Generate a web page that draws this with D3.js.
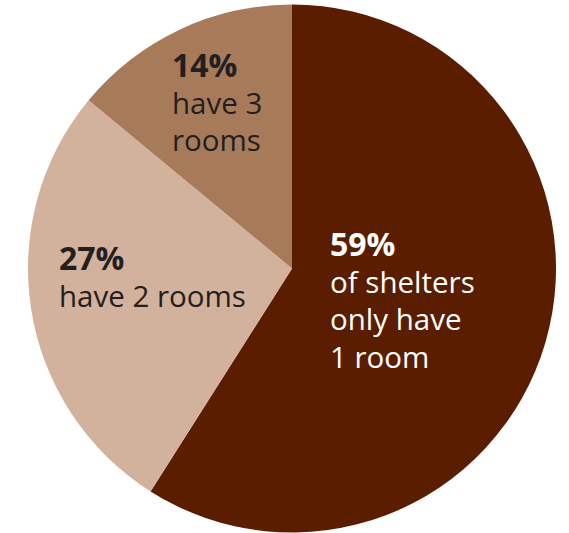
<!DOCTYPE html>
<html>
<head>
<meta charset="utf-8">
<script src="https://cdn.jsdelivr.net/npm/d3@7"></script>
<style>
  body { margin: 0; background: #fff; }
  svg text { font-family: "Open Sans", Lato, sans-serif; }
</style>
</head>
<body>
<script>
var categories = ["1 room", "2 rooms", "3 rooms"];
var values = [59, 27, 14];
var colors = ["#5a1d00", "#d2b29c", "#a77a5a"];
var labelLines = [
    ["of shelters", "only have", "1 room"],
    ["have 2 rooms"],
    ["have 3", "rooms"]
];
var labelPos = [[330, 256], [59, 270], [172, 77]];
var textColors = ["#ffffff", "#231f20", "#231f20"];

var width = 569, height = 533;
var cx = 292, cy = 268.5, radius = 264;

var svg = d3.select("body").append("svg")
    .attr("width", width)
    .attr("height", height);

var pie = d3.pie().sort(null).value(d => d);
var arc = d3.arc().innerRadius(0).outerRadius(radius);

var g = svg.append("g").attr("transform", "translate(" + [cx, cy] + ")");

g.selectAll("path")
    .data(pie(values))
    .enter()
    .append("path")
    .attr("d", arc)
    .attr("fill", (d, i) => colors[i]);

// labels
categories.forEach((c, i) => {
    var t = svg.append("text")
        .attr("x", labelPos[i][0])
        .attr("y", labelPos[i][1])
        .attr("fill", textColors[i])
        .style("font-size", "29.5px");
    t.append("tspan")
        .attr("x", labelPos[i][0])
        .style("font-weight", "bold")
        .style("font-size", "32px")
        .text(values[i] + "%");
    labelLines[i].forEach((line, j) => {
        t.append("tspan")
            .attr("x", labelPos[i][0])
            .attr("dy", j == 0 ? 36.5 : 37.5)
            .text(line);
    });
});
</script>
</body>
</html>
